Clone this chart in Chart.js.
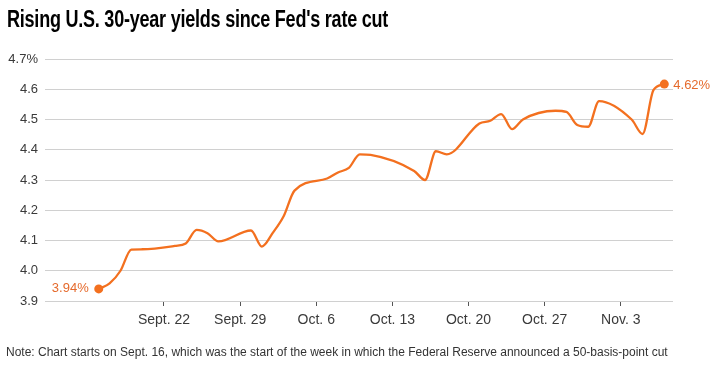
<!DOCTYPE html>
<html lang="en">
<head>
  <meta charset="UTF-8">
  <title>Rising U.S. 30-year yields since Fed's rate cut</title>
  <script src="https://cdn.jsdelivr.net/npm/chart.js@4.4.0/dist/chart.umd.min.js"></script>
  <style>
    body { margin: 0; background: #fff; }
    #wrap { position: relative; width: 724px; height: 366px; overflow: hidden; }
    #title {
      position: absolute; left: 7px; top: 8px; margin: 0;
      font: bold 23px/23px "Liberation Sans", Arial, sans-serif;
      letter-spacing: -0.3px;
      color: #000; white-space: nowrap;
      transform-origin: 0 0;
    }
    #note {
      position: absolute; left: 6px; top: 346px; margin: 0;
      font: 12px/12px "Liberation Sans", Arial, sans-serif;
      color: #333; white-space: nowrap;
    }
    #chart { position: absolute; left: 0; top: 0; }
  </style>
</head>
<body>
  <div id="wrap">
    <canvas id="chart" width="724" height="366"></canvas>
    <h1 id="title">Rising U.S. 30-year yields since Fed's rate cut</h1>
    <p id="note">Note: Chart starts on Sept. 16, which was the start of the week in which the Federal Reserve announced a 50-basis-point cut</p>
  </div>

  <script>
    // days counted from Sept. 16 (trading days only)
    var days = [0, 1, 2, 3, 4, 7, 8, 9, 10, 11, 14, 15, 16, 17, 18, 21, 22, 23, 24, 25,
      29, 30, 31, 32, 35, 36, 37, 38, 39, 42, 43, 44, 45, 46, 49, 50, 51, 52];
    var yields = [3.94, 3.958, 4.00, 4.07, 4.071, 4.082, 4.09, 4.135, 4.124, 4.097,
      4.133, 4.08, 4.125, 4.18, 4.265, 4.305, 4.325, 4.34, 4.385, 4.383,
      4.33, 4.30, 4.395, 4.385, 4.487, 4.496, 4.518, 4.468, 4.50,
      4.529, 4.525, 4.482, 4.476, 4.561, 4.50, 4.452, 4.597, 4.617];
    var tickDays = [6, 13, 20, 27, 34, 41, 48];
    var tickLabels = ["Sept. 22", "Sept. 29", "Oct. 6", "Oct. 13", "Oct. 20", "Oct. 27", "Nov. 3"];

    var lineColor = "#f3701f";
    var labelColor = "#e56a2c";
    var lastIdx = yields.length - 1;

    // squeeze the headline to the condensed width of the original
    var title = document.getElementById("title");
    title.style.transform = "scaleX(" + (381 / title.scrollWidth) + ")";

    // end labels next to first and last points
    var endLabels = {
      id: "endLabels",
      afterDatasetsDraw(chart) {
        var pts = chart.getDatasetMeta(0).data;
        var ctx = chart.ctx;
        ctx.save();
        ctx.font = '13px "Liberation Sans", Arial, sans-serif';
        ctx.fillStyle = labelColor;
        ctx.textBaseline = "middle";
        ctx.textAlign = "right";
        ctx.fillText(yields[0].toFixed(2) + "%", pts[0].x - 10, pts[0].y);
        ctx.textAlign = "left";
        ctx.fillText(yields[lastIdx].toFixed(2) + "%", pts[lastIdx].x + 9, pts[lastIdx].y + 1);
        ctx.restore();
      }
    };

    new Chart("chart", {
      type: "line",
      data: {
        datasets: [{
          data: days.map((d, i) => ({ x: d, y: yields[i] })),
          borderColor: lineColor,
          backgroundColor: lineColor,
          borderWidth: 2.3,
          cubicInterpolationMode: "monotone",
          pointRadius: (c) => (c.dataIndex === 0 || c.dataIndex === lastIdx) ? 4.5 : 0,
          pointHoverRadius: 0,
          pointBorderWidth: 0
        }]
      },
      options: {
        responsive: false,
        animation: false,
        events: [],
        layout: { padding: { left: 0, right: 51, top: 59, bottom: 35 } },
        plugins: {
          legend: { display: false },
          tooltip: { enabled: false }
        },
        scales: {
          x: {
            type: "linear",
            min: -4.94,
            max: 52.8,
            afterBuildTicks: (axis) => { axis.ticks = tickDays.map(v => ({ value: v })); },
            afterFit: (axis) => { axis.height = 30; },
            border: { display: false },
            grid: {
              drawOnChartArea: false,
              drawTicks: true,
              tickLength: 5,
              tickColor: "#555",
              lineWidth: 1
            },
            ticks: {
              autoSkip: false,
              maxRotation: 0,
              padding: 6,
              color: "#3a3a3a",
              font: { family: '"Liberation Sans", Arial, sans-serif', size: 14 },
              callback: (v) => tickLabels[tickDays.indexOf(v)]
            }
          },
          y: {
            min: 3.9,
            max: 4.7,
            afterFit: (axis) => { axis.width = 45; },
            border: { display: false },
            grid: { drawTicks: false, color: "#d0d0d0", lineWidth: 1 },
            ticks: {
              stepSize: 0.1,
              padding: 7,
              color: "#3a3a3a",
              font: { family: '"Liberation Sans", Arial, sans-serif', size: 13 },
              callback: (v) => Math.abs(v - 4.7) < 1e-6 ? "4.7%" : v.toFixed(1)
            }
          }
        }
      },
      plugins: [endLabels]
    });
  </script>
</body>
</html>
